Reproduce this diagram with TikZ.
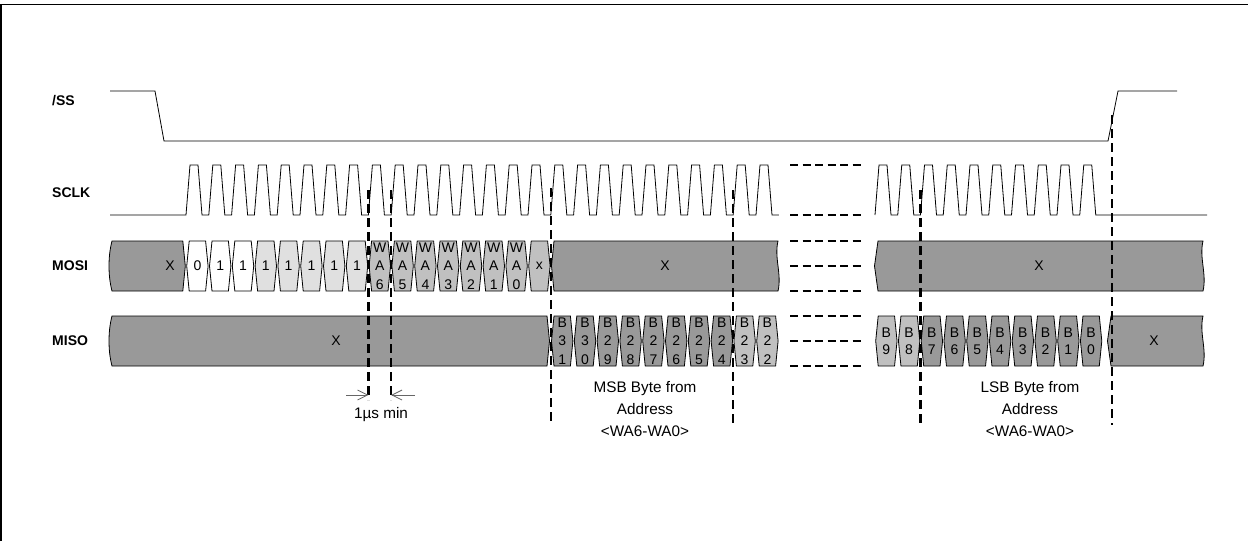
\documentclass[tikz,border=0pt]{standalone}
\usepackage{fontspec}
\setmainfont{Liberation Sans}
\usetikzlibrary{arrows.meta, calc}
\definecolor{busdark}{HTML}{999999}
\definecolor{buslight}{HTML}{C0C0C0}
\definecolor{buspale}{HTML}{E0E0E0}
\tikzset{
  signal/.style={black, line width=0.8pt},
  cellline/.style={draw=black, line width=0.8pt},
  guide/.style={black, line width=2.2pt, dash pattern=on 9pt off 5pt},
  gapline/.style={black, line width=2.2pt, dash pattern=on 8pt off 4.5pt},
  siglabel/.style={anchor=west, inner sep=0pt, font=\fontsize{14}{16}\selectfont\bfseries},
  celltext/.style={inner sep=0pt, align=center, font=\fontsize{14}{18.5}\selectfont},
  note/.style={inner sep=0pt, align=center, font=\fontsize{15.3}{22}\selectfont},
  dimarrow/.style={gray!80!black, line width=0.8pt, -{Straight Barb[length=10pt, width=10pt]}}
}
% celda de bus: x izquierda, x derecha, y superior, relleno, nombre, texto
\newcommand{\buscell}[6]{%
  \filldraw[cellline, fill=#4] (#1+2.5,#3) -- (#2-2.5,#3) -- (#2,#3+25) -- (#2-2.5,#3+50)
    -- (#1+2.5,#3+50) -- (#1,#3+25) -- cycle;
  \begin{scope}
    \clip (#1,#3+0.5) rectangle (#2,#3+49.5);
    \node[celltext] (#5) at ({(#1+#2)/2},#3+25) {#6};
  \end{scope}
}

\begin{document}
\begin{tikzpicture}[x=1pt, y=-1pt]
  \useasboundingbox (0,0) rectangle (1248,541);
  \draw[line width=1.4pt] (1,541) -- (1,4.5) -- (1248,4.5);

  % 1. Etiquetas de las senales
  \node[siglabel] (lblss)   at (52,101) {/SS};
  \node[siglabel] (lblsclk) at (52,193) {SCLK};
  \node[siglabel] (lblmosi) at (52,266) {MOSI};
  \node[siglabel] (lblmiso) at (52,341) {MISO};

  % 2. /SS y SCLK
  \draw[signal] (110,91) -- (155,91) -- (164,141) -- (1108,141) -- (1118,91) -- (1177,91);
  \draw[signal] (110,215) -- (186,215)
    \foreach \k in {0,...,25} { -- ++(4,-50) -- ++(8,0) -- ++(4,50) -- ++(6.8,0) };
  \draw[signal] (875,215)
    \foreach \k in {0,...,9} { -- ++(4,-50) -- ++(8,0) -- ++(4,50) -- ++(6.75,0) } -- (1207,215);

  % 3. MOSI
  \filldraw[cellline, fill=busdark] (112,241) -- (182.8,241) -- (185.3,266) -- (182.8,291) -- (112,291)
    .. controls (108,276) and (108,256) .. (112,241) -- cycle;
  \node[celltext] (mosix0) at (170,266) {X};
  \foreach \k/\val/\col in {0/0/white, 1/1/white, 2/1/white, 3/1/buspale, 4/1/buspale,
                            5/1/buspale, 6/1/buspale, 7/1/buspale} {
    \pgfmathsetmacro\xa{186+\k*22.8+0.7}
    \pgfmathsetmacro\xb{186+(\k+1)*22.8-0.7}
    \buscell{\xa}{\xb}{241}{\col}{mosi\k}{\val}
  }
  \foreach \k/\d in {8/6, 9/5, 10/4, 11/3, 12/2, 13/1, 14/0} {
    \pgfmathsetmacro\xa{186+\k*22.8+0.7}
    \pgfmathsetmacro\xb{186+(\k+1)*22.8-0.7}
    \buscell{\xa}{\xb}{241}{buslight}{mosi\k}{W\\A\\\d}
  }
  \buscell{528.7}{550.1}{241}{buslight}{mosi15}{x}
  \filldraw[cellline, fill=busdark] (554,241) -- (778,241) .. controls (774,258) and (782,274) .. (778,291)
    -- (554,291) -- (551.5,266) -- cycle;
  \node[celltext] (mosix1) at (665,266) {X};
  \filldraw[cellline, fill=busdark] (878,241) -- (1203,241) .. controls (1199,258) and (1207,274) .. (1203,291)
    -- (878,291) -- (874.5,266) -- cycle;
  \node[celltext] (mosix2) at (1039,266) {X};

  % 4. MISO
  \filldraw[cellline, fill=busdark] (112,316) -- (547,316) -- (549.5,341) -- (547,366) -- (112,366)
    .. controls (108,351) and (108,331) .. (112,316) -- cycle;
  \node[celltext] (misox0) at (336,341) {X};
  \foreach \k/\hi/\lo/\col in {16/3/1/busdark, 17/3/0/busdark, 18/2/9/busdark, 19/2/8/busdark,
                               20/2/7/busdark, 21/2/6/busdark, 22/2/5/busdark, 23/2/4/busdark,
                               24/2/3/buslight, 25/2/2/buslight} {
    \pgfmathsetmacro\xa{186+\k*22.8+0.7}
    \pgfmathsetmacro\xb{186+(\k+1)*22.8-0.7}
    \buscell{\xa}{\xb}{316}{\col}{miso\k}{B\\\hi\\\lo}
  }
  \foreach \k/\d/\col in {0/9/buslight, 1/8/buslight, 2/7/busdark, 3/6/busdark, 4/5/busdark,
                          5/4/busdark, 6/3/busdark, 7/2/busdark, 8/1/busdark, 9/0/busdark} {
    \pgfmathsetmacro\xa{875+\k*22.75+0.7}
    \pgfmathsetmacro\xb{875+(\k+1)*22.75-0.7}
    \buscell{\xa}{\xb}{316}{\col}{misob\d}{B\\[-1.5pt]\d}
  }
  \filldraw[cellline, fill=busdark] (1111,316) -- (1203,316) .. controls (1199,333) and (1207,349) .. (1203,366)
    -- (1111,366) -- (1107.5,341) -- cycle;
  \node[celltext] (misox1) at (1154,341) {X};

  % 5. Hueco (lineas discontinuas)
  \foreach \y in {165,215,241,266,291,316,341,366} {
    \draw[gapline] (790,\y) -- (863,\y);
  }

  % 6. Guias verticales
  \foreach \n/\x/\ya/\yb in {a/368.4/190/400, b/391.2/190/400, c/550.8/188/423,
                             d/733.2/190/423, e/920.5/190/423, f/1112/115/425} {
    \coordinate (top\n) at (\x,\ya);
    \coordinate (bot\n) at (\x,\yb);
    \draw[guide] (top\n) -- (bot\n);
  }

  % 7. Cotas y textos
  \coordinate (dimL) at (346,395);
  \coordinate (dimR) at (415,395);
  \draw[dimarrow] (dimL) -- (bota |- dimL);
  \draw[dimarrow] (dimR) -- (botb |- dimR);
  \node[note] (tmin) at (381,415) {1µs min};
  \node[note] (msbtext) at (645,409) {MSB Byte from\\Address\\<WA6-WA0>};
  \node[note] (lsbtext) at (1030,409) {LSB Byte from\\Address\\<WA6-WA0>};
\end{tikzpicture}
\end{document}
